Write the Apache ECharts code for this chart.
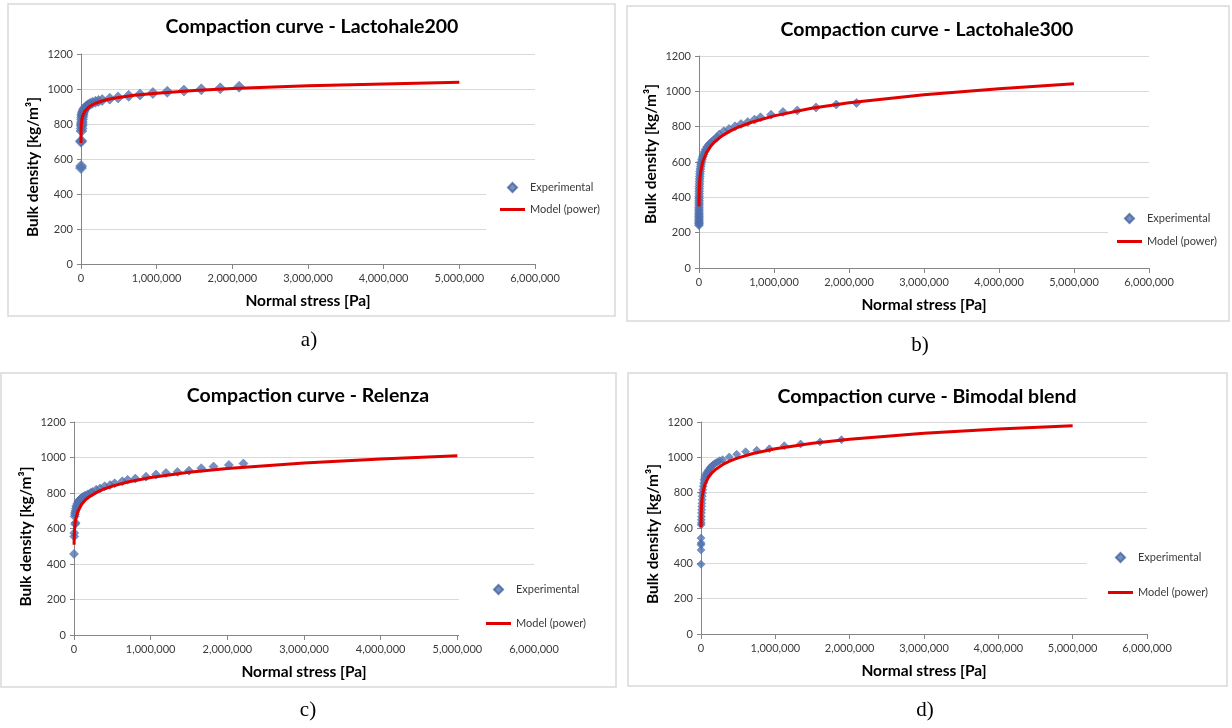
<!DOCTYPE html>
<html>
<head>
<meta charset="utf-8">
<script src="https://cdn.jsdelivr.net/npm/echarts@6/dist/echarts.min.js"></script>
<style>
  html, body { margin: 0; padding: 0; background: #ffffff; }
  #chart { width: 1232px; height: 728px; }
</style>
</head>
<body>
<div id="chart"></div>
<script>
// Chart titles and sub-figure captions
const chartTitles = [
  'Compaction curve - Lactohale200',
  'Compaction curve - Lactohale300',
  'Compaction curve - Relenza',
  'Compaction curve - Bimodal blend'
];
const captions = ['a)', 'b)', 'c)', 'd)'];
const xAxisTitle = 'Normal stress [Pa]';
const yAxisTitle = 'Bulk density [kg/m³]';
const expName = 'Experimental';
const modelName = 'Model (power)';

// Axis ranges (Pa, kg/m³)
const stressMax = 6000000;
const stressStep = 1000000;
const densityMax = 1200;
const densityStep = 200;

// Lactohale200: [normal stress Pa, bulk density kg/m³]
const lactohale200Exp = [
  [0, 548], [2000, 560], [0, 698], [3000, 705], [6000, 760], [8000, 775], [9000, 790],
  [10000, 800], [12000, 812], [14000, 826], [16000, 838], [18000, 848], [20000, 856],
  [24000, 864], [30000, 872], [38000, 880], [48000, 888], [60000, 895], [75000, 901],
  [95000, 908], [120000, 915], [150000, 921], [190000, 927], [230000, 932], [280000, 937],
  [380000, 945], [490000, 952], [630000, 961], [780000, 969], [950000, 977],
  [1140000, 984], [1360000, 991], [1590000, 998], [1840000, 1004], [2090000, 1013]
];
const lactohale200Model = [
  [100, 691], [500, 735], [1000, 754], [2000, 774], [5000, 801], [10000, 822],
  [20000, 844], [50000, 873], [100000, 896], [150000, 910], [200000, 920], [300000, 934],
  [400000, 944], [500000, 952], [700000, 964], [1000000, 976], [1500000, 992],
  [2000000, 1003], [3000000, 1018], [4000000, 1029], [5000000, 1038]
];

// Lactohale300
const lactohale300Exp = [
  [0, 242], [0, 250], [0, 258], [0, 266], [0, 275], [0, 284], [0, 293], [0, 302],
  [100, 312], [200, 322], [300, 333], [400, 344], [600, 356], [800, 368], [1000, 380],
  [1300, 393], [1700, 406], [2200, 420], [2800, 434], [3500, 448], [4500, 462],
  [5500, 476], [7000, 490], [8500, 504], [10000, 518], [12500, 532], [15000, 546],
  [18000, 560], [22000, 574], [27000, 588], [33000, 602], [40000, 616], [50000, 630],
  [62000, 644], [75000, 658], [90000, 672], [110000, 686], [135000, 700], [165000, 712],
  [200000, 726], [240000, 740], [270000, 755], [330000, 774], [400000, 787],
  [480000, 802], [560000, 815], [650000, 826], [740000, 840], [820000, 853],
  [960000, 868], [1120000, 883], [1310000, 892], [1560000, 909], [1830000, 925],
  [2100000, 934]
];
const lactohale300Model = [
  [500, 349], [1000, 378], [2000, 411], [5000, 458], [10000, 498], [20000, 540],
  [50000, 603], [100000, 654], [150000, 686], [200000, 711], [300000, 746],
  [400000, 772], [500000, 793], [700000, 825], [1000000, 861], [1500000, 904],
  [2000000, 935], [3000000, 981], [4000000, 1015], [5000000, 1043]
];

// Relenza
const relenzaExp = [
  [0, 457], [3000, 555], [3000, 575], [15000, 625], [20000, 632], [8000, 668],
  [12000, 680], [15000, 690], [20000, 700], [25000, 712], [30000, 722], [35000, 730],
  [45000, 740], [55000, 750], [65000, 757], [80000, 765], [100000, 772], [120000, 779],
  [145000, 786], [180000, 793], [215000, 800], [240000, 806], [290000, 819],
  [340000, 826], [400000, 838], [470000, 845], [530000, 855], [630000, 866],
  [700000, 874], [800000, 881], [940000, 892], [1070000, 904], [1200000, 913],
  [1350000, 919], [1500000, 926], [1660000, 940], [1820000, 949], [2020000, 958],
  [2210000, 966]
];
const relenzaModel = [
  [1000, 509], [2000, 537], [5000, 578], [10000, 612], [20000, 647], [50000, 696],
  [100000, 737], [150000, 762], [200000, 779], [300000, 805], [400000, 824],
  [500000, 839], [700000, 862], [1000000, 887], [1500000, 917], [2000000, 938],
  [3000000, 969], [4000000, 992], [5000000, 1010]
];

// Bimodal blend
const bimodalExp = [
  [0, 395], [0, 476], [0, 505], [2000, 515], [0, 543], [2000, 618], [3000, 630],
  [4000, 646], [5000, 665], [6000, 685], [8000, 703], [10000, 722], [12000, 740],
  [15000, 760], [17000, 780], [20000, 798], [25000, 817], [30000, 836], [35000, 855],
  [40000, 873], [50000, 888], [63000, 902], [75000, 912], [90000, 921], [105000, 930],
  [120000, 940], [140000, 949], [165000, 958], [190000, 966], [220000, 974],
  [250000, 981], [290000, 987], [380000, 1002], [480000, 1017], [600000, 1032],
  [750000, 1040], [920000, 1049], [1120000, 1066], [1340000, 1076], [1600000, 1087],
  [1890000, 1100]
];
const bimodalModel = [
  [500, 604], [1000, 635], [2000, 668], [5000, 713], [10000, 750], [20000, 789],
  [50000, 844], [100000, 887], [150000, 914], [200000, 933], [300000, 961],
  [400000, 981], [500000, 997], [700000, 1022], [1000000, 1049], [1500000, 1080],
  [2000000, 1103], [3000000, 1136], [4000000, 1160], [5000000, 1179]
];

const experimentalSets = [lactohale200Exp, lactohale300Exp, relenzaExp, bimodalExp];
const modelSets = [lactohale200Model, lactohale300Model, relenzaModel, bimodalModel];

// Panel placement on the page
const panels = [
  { grid: { left: 81, top: 54, width: 454, height: 210 }, titleX: 312, titleY: 27,
    capX: 309, capY: 340, box: [8, 4, 607, 312], nameGap: 40, nameShift: 8, marker: 11,
    legend: { left: 486, top: 164, padding: [17.5, 8, 20, 14], gap: 10 } },
  { grid: { left: 699, top: 56, width: 450, height: 212 }, titleX: 927, titleY: 30,
    capX: 920, capY: 345, box: [627, 6, 602, 315], nameGap: 40, nameShift: -8, marker: 9,
    legend: { left: 1108, top: 203, padding: [9.5, 8, 8, 9], gap: 11 } },
  { grid: { left: 74, top: 422, width: 460, height: 213 }, titleX: 308, titleY: 396,
    capX: 308, capY: 710, box: [1, 373, 615, 314], nameGap: 40, nameShift: 8, marker: 9,
    legend: { left: 459, top: 572, padding: [11.5, 8, 11.5, 27], gap: 22 } },
  { grid: { left: 701, top: 422, width: 446, height: 212 }, titleX: 927, titleY: 397,
    capX: 925, capY: 710, box: [628, 373, 599, 313], nameGap: 40, nameShift: 6, marker: 8,
    legend: { left: 1087, top: 538, padding: [13.5, 8, 13.5, 21], gap: 23 } }
];

const blue = '#5274b4';
const red = '#e10000';
const axisGrey = '#868686';
const gridGrey = '#d9d9d9';
const labelColor = '#3a3a3a';

// legend glyphs: a diamond marker and a short thick stroke
const diamondIcon = 'path://M5,0L10,5L5,10L0,5Z';
const strokeIcon = 'path://M0,0H25V3H0Z';

const fmtThousands = v => Math.round(v).toLocaleString('en-US');

// rotated name: extra padding on one side moves the text along the axis
const namePadding = s => (s >= 0 ? [0, 2 * s, 0, 0] : [0, 0, 0, -2 * s]);

const option = {
  animation: false,
  backgroundColor: '#ffffff',
  textStyle: { fontFamily: 'Lato' },
  graphic: panels.map(p => ({
    type: 'rect', silent: true, z: -10,
    shape: { x: p.box[0], y: p.box[1], width: p.box[2], height: p.box[3] },
    style: { fill: 'none', stroke: gridGrey, lineWidth: 1.5 }
  })),
  title: [
    ...panels.map((p, i) => ({
      text: chartTitles[i], left: p.titleX, top: p.titleY - 10, textAlign: 'center', padding: 0,
      textStyle: { fontFamily: 'Lato', fontSize: 19.5, fontWeight: 'bold', color: '#000' }
    })),
    ...panels.map((p, i) => ({
      text: captions[i], left: p.capX, top: p.capY - 10, textAlign: 'center', padding: 0,
      textStyle: { fontFamily: 'Liberation Serif', fontSize: 21, fontWeight: 'normal', color: '#000' }
    }))
  ],
  legend: panels.map(p => ({
    orient: 'vertical', left: p.legend.left, top: p.legend.top,
    padding: p.legend.padding, itemGap: p.legend.gap,
    itemWidth: 25, itemHeight: 9, symbolKeepAspect: true, backgroundColor: '#ffffff',
    selectedMode: false,
    textStyle: { fontFamily: 'Lato', fontSize: 11, color: labelColor, lineHeight: 12 },
    data: [
      { name: expName, icon: diamondIcon },
      { name: modelName, icon: strokeIcon }
    ]
  })),
  grid: panels.map(p => Object.assign({ containLabel: false }, p.grid)),
  xAxis: panels.map((p, i) => ({
    type: 'value', gridIndex: i, min: 0, max: stressMax, interval: stressStep,
    name: xAxisTitle, nameLocation: 'middle', nameGap: 29,
    nameTextStyle: { fontFamily: 'Lato', fontSize: 15.5, fontWeight: 'bold', color: '#000' },
    axisLine: { show: true, lineStyle: { color: axisGrey, width: 1 } },
    axisTick: { show: true, length: 5, lineStyle: { color: axisGrey } },
    splitLine: { show: false },
    axisLabel: { fontSize: 11, color: labelColor, margin: 9, formatter: fmtThousands }
  })),
  yAxis: panels.map((p, i) => ({
    type: 'value', gridIndex: i, min: 0, max: densityMax, interval: densityStep,
    name: yAxisTitle, nameLocation: 'middle', nameGap: p.nameGap,
    nameTextStyle: {
      fontFamily: 'Lato', fontSize: 15.5, fontWeight: 'bold', color: '#000',
      padding: namePadding(p.nameShift)
    },
    axisLine: { show: true, lineStyle: { color: axisGrey, width: 1 } },
    axisTick: { show: true, length: 4, lineStyle: { color: axisGrey } },
    splitLine: { show: true, lineStyle: { color: gridGrey, width: 1 } },
    axisLabel: { fontSize: 11, color: labelColor, margin: 8, formatter: v => String(v) }
  })),
  series: [
    ...experimentalSets.map((d, i) => ({
      name: expName, type: 'scatter', xAxisIndex: i, yAxisIndex: i,
      symbol: 'diamond', symbolSize: panels[i].marker,
      itemStyle: { color: blue, borderColor: '#46659f', borderWidth: 0.6 },
      data: d, z: 2
    })),
    ...modelSets.map((d, i) => ({
      name: modelName, type: 'line', xAxisIndex: i, yAxisIndex: i,
      symbol: 'none', showSymbol: false, smooth: false,
      lineStyle: { color: red, width: 3 }, itemStyle: { color: red },
      data: d, z: 3
    }))
  ]
};

const chart = echarts.init(document.getElementById('chart'), null, { renderer: 'canvas' });
chart.setOption(option);
</script>
</body>
</html>
